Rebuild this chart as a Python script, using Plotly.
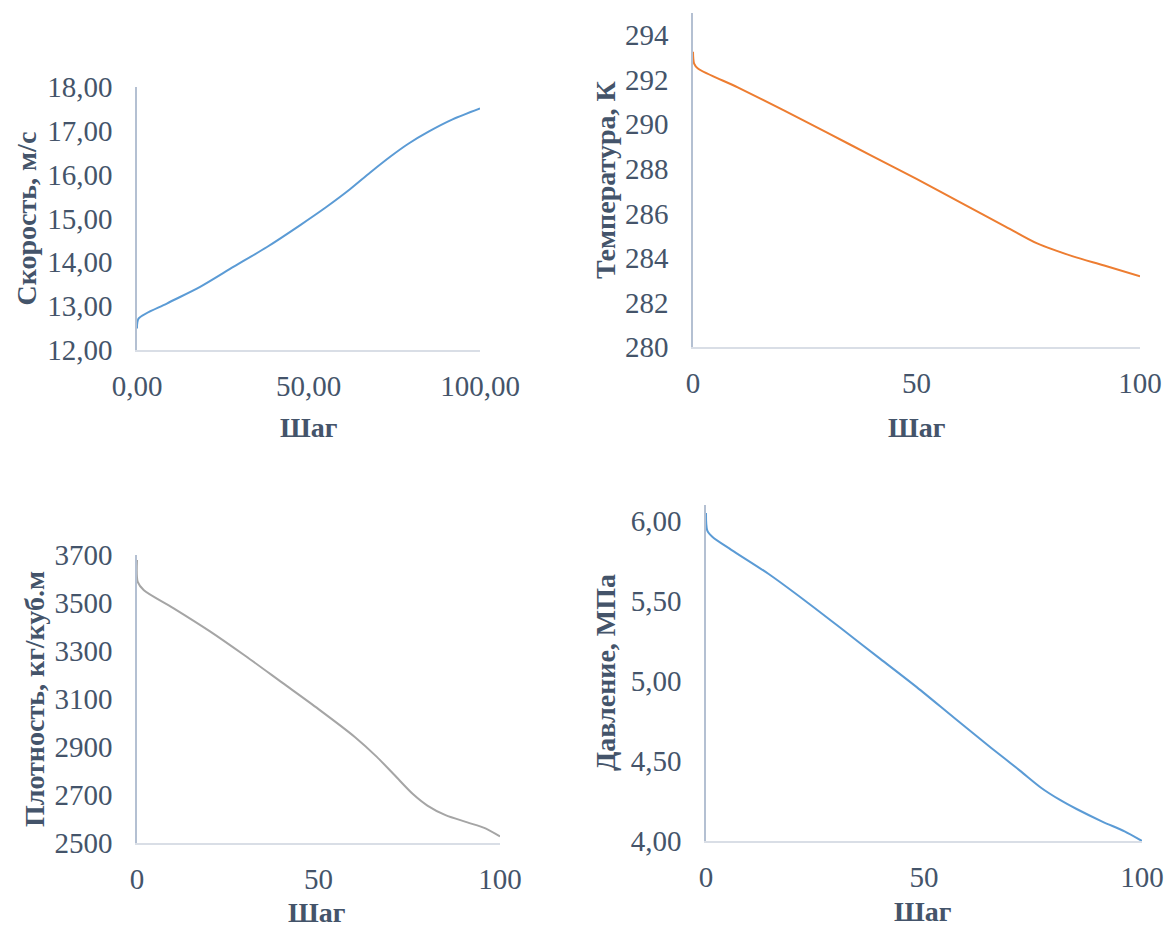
import plotly.graph_objects as go

# ---- data ----
step_v = [0, 0.5, 8.7, 18.4, 28.2, 37.9, 47.6, 55, 62, 68, 74, 79, 85, 92, 100]
speed = [12.49, 12.72, 13.06, 13.44, 13.90, 14.35, 14.85, 15.25, 15.66, 16.05, 16.42, 16.70,
         16.98, 17.26, 17.51]

step_t = [0, 0.25, 1.1, 10, 20, 30, 40, 50, 60, 70, 77, 85, 92, 100]
temperature = [293.26, 292.73, 292.51, 291.66, 290.66, 289.63, 288.58, 287.55, 286.47,
               285.40, 284.65, 284.07, 283.66, 283.17]

step_d = [0, 0.2, 1.9, 10, 20, 30, 40, 50, 60, 66, 71, 76, 80, 85, 91, 96, 100]
density = [3679, 3588, 3553, 3479, 3383, 3278, 3168, 3058, 2942, 2860, 2782, 2704, 2656,
           2616, 2586, 2561, 2527]

step_p = [0, 0.3, 1.5, 5.8, 14.3, 22.8, 31.4, 39.9, 48.4, 56.9, 65.5, 72, 77, 81, 85, 91, 96, 100]
pressure = [6.05, 5.94, 5.90, 5.82, 5.67, 5.50, 5.32, 5.14, 4.96, 4.77, 4.58, 4.44, 4.33,
            4.26, 4.20, 4.12, 4.06, 4.00]

x_ticks_v = [0, 50, 100]
x_ticklabels_v = ["0,00", "50,00", "100,00"]
x_ticks = [0, 50, 100]
x_ticklabels = ["0", "50", "100"]

y_ticks_v = [12, 13, 14, 15, 16, 17, 18]
y_ticklabels_v = ["12,00", "13,00", "14,00", "15,00", "16,00", "17,00", "18,00"]
y_ticks_t = [280, 282, 284, 286, 288, 290, 292, 294]
y_ticks_d = [2500, 2700, 2900, 3100, 3300, 3500, 3700]
y_ticks_p = [4.0, 4.5, 5.0, 5.5, 6.0]
y_ticklabels_p = ["4,00", "4,50", "5,00", "5,50", "6,00"]

titles_y = ["Скорость, м/с", "Температура, К", "Плотность, кг/куб.м", "Давление, МПа"]
title_x = "Шаг"

# ---- styling ----
W, H = 1168, 930
FONT = "Liberation Serif, Times New Roman, serif"
TXT = "#44546A"
YLINE = "#B4C0D2"
XLINE = "#D9DEE6"

def fx(px):
    return px / W

def fy(py):
    return 1 - py / H

fig = go.Figure()

panels = [
    dict(x=step_v, y=speed, color="#5B9BD5", xd=(137, 480), yd=(350, 87), yr=[12, 18],
         yt=y_ticks_v, ytl=y_ticklabels_v, xt=x_ticks_v, xtl=x_ticklabels_v),
    dict(x=step_t, y=temperature, color="#ED7D31", xd=(693, 1140), yd=(347, 13), yr=[280, 295],
         yt=y_ticks_t, ytl=[str(v) for v in y_ticks_t], xt=x_ticks, xtl=x_ticklabels),
    dict(x=step_d, y=density, color="#A5A5A5", xd=(137, 500), yd=(843, 555), yr=[2500, 3700],
         yt=y_ticks_d, ytl=[str(v) for v in y_ticks_d], xt=x_ticks, xtl=x_ticklabels),
    dict(x=step_p, y=pressure, color="#5B9BD5", xd=(706, 1142), yd=(841, 505), yr=[4.0, 6.1],
         yt=y_ticks_p, ytl=y_ticklabels_p, xt=x_ticks, xtl=x_ticklabels),
]

ytitle_x = [26, 605, 34, 605]
xtitle_pos = [(309, 427), (916, 427), (316, 912), (922, 911)]

layout = {}
annotations = []
for i, p in enumerate(panels):
    n = "" if i == 0 else str(i + 1)
    xa, ya = "x" + n, "y" + n
    fig.add_trace(go.Scatter(
        x=p["x"], y=p["y"], mode="lines", xaxis=xa, yaxis=ya,
        line=dict(color=p["color"], width=2, shape="spline", smoothing=0.8),
        showlegend=False, hoverinfo="skip"))
    layout["xaxis" + n] = dict(
        domain=[fx(p["xd"][0]), fx(p["xd"][1])], anchor=ya, range=[0, 100],
        tickvals=p["xt"], ticktext=p["xtl"], showgrid=False, zeroline=False,
        showline=True, linecolor=XLINE, linewidth=1.5, ticks="",
        ticklabelstandoff=9, automargin=False,
        tickfont=dict(family=FONT, size=29, color=TXT), fixedrange=True)
    layout["yaxis" + n] = dict(
        domain=[fy(p["yd"][0]), fy(p["yd"][1])], anchor=xa, range=p["yr"],
        tickvals=p["yt"], ticktext=p["ytl"], showgrid=False, zeroline=False,
        showline=True, linecolor=YLINE, linewidth=1.5, ticks="",
        ticklabelstandoff=17, automargin=False,
        tickfont=dict(family=FONT, size=29, color=TXT), fixedrange=True)
    cy = (p["yd"][0] + p["yd"][1]) / 2
    annotations.append(dict(
        text="<b>" + titles_y[i] + "</b>", xref="paper", yref="paper",
        x=fx(ytitle_x[i]), y=fy(cy), textangle=-90, showarrow=False,
        xanchor="center", yanchor="middle",
        font=dict(family=FONT, size=28, color=TXT)))
    annotations.append(dict(
        text="<b>" + title_x + "</b>", xref="paper", yref="paper",
        x=fx(xtitle_pos[i][0]), y=fy(xtitle_pos[i][1]), showarrow=False,
        xanchor="center", yanchor="middle",
        font=dict(family=FONT, size=28, color=TXT)))

fig.update_layout(
    width=W, height=H, margin=dict(l=0, r=0, t=0, b=0, autoexpand=False),
    paper_bgcolor="white", plot_bgcolor="white",
    annotations=annotations, **layout)

fig.write_html("out.html", config={"displayModeBar": False},
               post_script="document.body.style.margin='0';document.body.style.overflow='hidden';")
